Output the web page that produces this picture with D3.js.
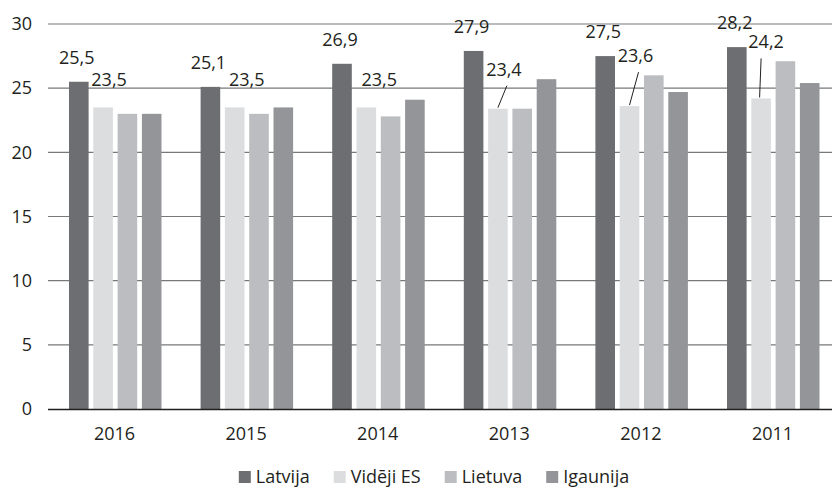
<!DOCTYPE html>
<html>
<head>
<meta charset="utf-8">
<script src="https://cdn.jsdelivr.net/npm/d3@7"></script>
<style>
  body { margin: 0; background: #fff; }
  svg { display: block; font-family: "Open Sans", sans-serif; }
</style>
</head>
<body>
<svg width="832" height="488"></svg>
<script>
// gadi un sērijas
var years = ["2016", "2015", "2014", "2013", "2012", "2011"];
var series = ["Latvija", "Vidēji ES", "Lietuva", "Igaunija"];
var latvija = [25.5, 25.1, 26.9, 27.9, 27.5, 28.2];
var videjiES = [23.5, 23.5, 23.5, 23.4, 23.6, 24.2];
var lietuva = [23.0, 23.0, 22.8, 23.4, 26.0, 27.1];
var igaunija = [23.0, 23.5, 24.1, 25.7, 24.7, 25.4];
var yTicks = [0, 5, 10, 15, 20, 25, 30];

var colors = ["#6d6e71", "#dcdddf", "#bcbdc0", "#939598"];
var values = [latvija, videjiES, lietuva, igaunija];

// ES label shift from bar (dx, dy) and whether a leader line is drawn
var esShift = [[6, -21], [12, -21], [13, -21], [6, -33], [6, -44], [5, -50]];
var esLeader = [false, false, false, true, true, true];

var fs = 18;
var svg = d3.select("svg");

var x0 = d3.scaleBand().domain(years).range([48.7, 838.3]);
var x1 = d3.scaleBand().domain(series).range([20.3, 20.3 + 4 * 24.3]);
var barW = 19.6;
var y = d3.scaleLinear().domain([0, 30]).range([409, 24]);

// grid
svg.append("g").selectAll("line")
  .data(yTicks.filter(function(d) { return d > 0; }))
  .enter().append("line")
  .attr("x1", 48).attr("x2", 832)
  .attr("y1", function(d) { return y(d); })
  .attr("y2", function(d) { return y(d); })
  .attr("stroke", "#77787b").attr("stroke-width", 1.2);

// y tick labels
svg.append("g").selectAll("text")
  .data(yTicks)
  .enter().append("text")
  .attr("x", 32)
  .attr("y", function(d) { return y(d); })
  .attr("dy", "0.35em")
  .attr("text-anchor", "end")
  .attr("font-size", fs)
  .attr("fill", "#231f20")
  .text(function(d) { return d; });

// bars
var groups = svg.append("g").selectAll("g")
  .data(years)
  .enter().append("g")
  .attr("transform", function(d) { return "translate(" + x0(d) + ",0)"; });

groups.selectAll("rect")
  .data(function(d, i) {
    return series.map(function(s, j) { return { s: s, j: j, v: values[j][i] }; });
  })
  .enter().append("rect")
  .attr("x", function(d) { return x1(d.s); })
  .attr("width", barW)
  .attr("y", function(d) { return y(d.v); })
  .attr("height", function(d) { return y(0) - y(d.v); })
  .attr("fill", function(d) { return colors[d.j]; });

// baseline
svg.append("line")
  .attr("x1", 48).attr("x2", 832)
  .attr("y1", y(0) + 0.5).attr("y2", y(0) + 0.5)
  .attr("stroke", "#231f20").attr("stroke-width", 1.6);

// year labels
svg.append("g").selectAll("text")
  .data(years)
  .enter().append("text")
  .attr("x", function(d) { return x0(d) + x0.bandwidth() / 2; })
  .attr("y", 440)
  .attr("text-anchor", "middle")
  .attr("font-size", fs)
  .attr("fill", "#231f20")
  .text(function(d) { return d; });

function fmt(v) { return v.toFixed(1).replace(".", ","); }

// Latvija labels
svg.append("g").selectAll("text")
  .data(years)
  .enter().append("text")
  .attr("x", function(d) { return x0(d) + x1("Latvija") + barW / 2 - 2; })
  .attr("y", function(d, i) { return y(latvija[i]) - 18; })
  .attr("text-anchor", "middle")
  .attr("font-size", fs)
  .attr("fill", "#231f20")
  .text(function(d, i) { return fmt(latvija[i]); });

// Vidēji ES labels
svg.append("g").selectAll("text")
  .data(years)
  .enter().append("text")
  .attr("x", function(d, i) { return x0(d) + x1("Vidēji ES") + barW / 2 + esShift[i][0]; })
  .attr("y", function(d, i) { return y(videjiES[i]) + esShift[i][1]; })
  .attr("text-anchor", "middle")
  .attr("font-size", fs)
  .attr("fill", "#231f20")
  .text(function(d, i) { return fmt(videjiES[i]); });

// leader lines
svg.append("g").selectAll("line")
  .data(years.filter(function(d, i) { return esLeader[i]; }))
  .enter().append("line")
  .each(function(d) {
    var i = years.indexOf(d);
    var cx = x0(d) + x1("Vidēji ES") + barW / 2;
    var top = y(videjiES[i]);
    d3.select(this)
      .attr("x1", cx + esShift[i][0] + 3 - (i === 5 ? 8 : 0))
      .attr("y1", top + esShift[i][1] + 10)
      .attr("x2", cx + (i === 5 ? -1.5 : 0))
      .attr("y2", top - 1);
  })
  .attr("stroke", "#231f20").attr("stroke-width", 1);

// legend
var leg = svg.append("g");
var items = leg.selectAll("g").data(series).enter().append("g");
items.append("rect")
  .attr("width", 12).attr("height", 12)
  .attr("y", 471)
  .attr("fill", function(d, i) { return colors[i]; });
items.append("text")
  .attr("x", 17).attr("y", 483)
  .attr("font-size", fs)
  .attr("fill", "#231f20")
  .text(function(d) { return d; });
var pos = 0;
items.each(function() {
  d3.select(this).attr("transform", "translate(" + pos + ",0)");
  pos += 17 + this.querySelector("text").getComputedTextLength() + 24;
});
var legW = pos - 24;
leg.attr("transform", "translate(" + (434 - legW / 2) + ",0)");
</script>
</body>
</html>
